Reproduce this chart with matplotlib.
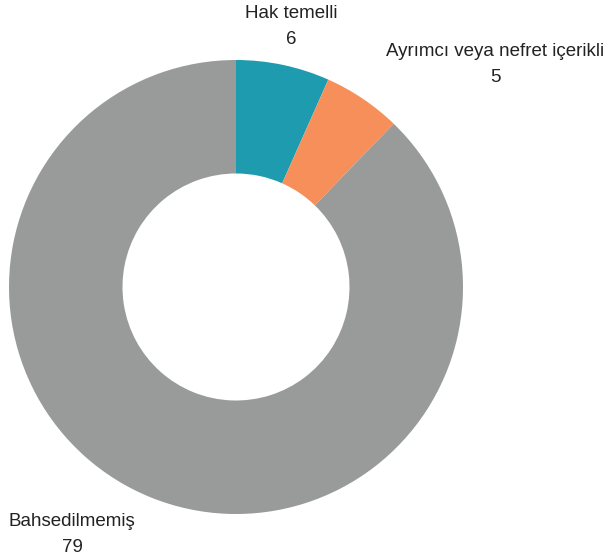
import matplotlib.pyplot as plt

labels = ['Hak temelli', 'Ayrımcı veya nefret içerikli', 'Bahsedilmemiş']
values = [6, 5, 79]
colors = ['#1f9bb0', '#f68f59', '#999b9b']

plt.rcParams['font.family'] = ['Liberation Sans', 'DejaVu Sans']

W, H = 609, 557
fig = plt.figure(figsize=(W / 100, H / 100), dpi=100)
ax = fig.add_axes([0, 0, 1, 1])

# pixel-like coordinates, y measured from the top
cx, cy, r = 236, 287, 227
ax.pie(values, colors=colors, startangle=90, counterclock=False,
       center=(cx, H - cy), radius=r, wedgeprops=dict(width=r * 0.5, linewidth=0))
ax.set_xlim(0, W)
ax.set_ylim(0, H)
ax.set_aspect('auto')
ax.axis('off')

# label positions (pixels from top-left): name line, value line
spots = [(291, 14, 39), (495, 52, 78), (72, 521, 548)]
for lab, val, (x, y1, y2) in zip(labels, values, spots):
    ax.text(x, H - y1, lab, ha='center', va='center', fontsize=13.5, color='#222222')
    ax.text(x, H - y2, str(val), ha='center', va='center', fontsize=13.5, color='#222222')

fig.savefig('out.png', dpi=100)
